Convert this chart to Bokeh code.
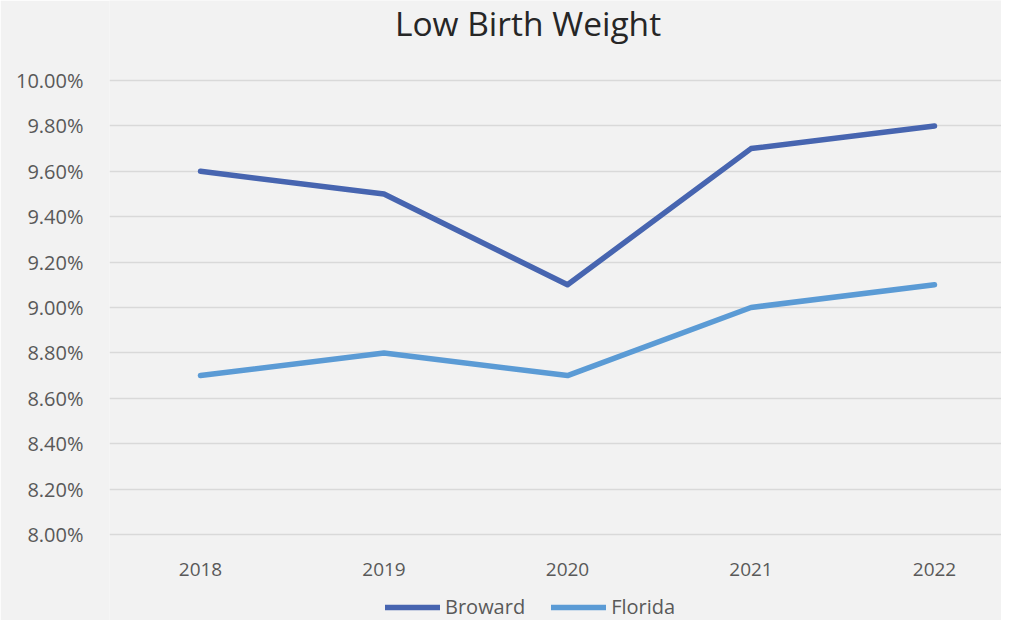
from bokeh.plotting import figure
from bokeh.models import Range1d, FixedTicker, NumeralTickFormatter, Legend, LegendItem, Label
from bokeh.embed import file_html
from bokeh.resources import INLINE

title_text = "Low Birth Weight"
years = [2018, 2019, 2020, 2021, 2022]
year_labels = ["2018", "2019", "2020", "2021", "2022"]
broward = [0.096, 0.095, 0.091, 0.097, 0.098]
florida = [0.087, 0.088, 0.087, 0.090, 0.091]
y_ticks = [0.080, 0.082, 0.084, 0.086, 0.088, 0.090, 0.092, 0.094, 0.096, 0.098, 0.100]

BG = "#f2f2f2"
FONT = "Open Sans"

# frame spans the whole figure height; 10% sits 80px below top, 8% sits 534px below top
p = figure(width=1001, height=620, output_backend="svg", toolbar_location=None,
           x_range=Range1d(2017.5041, 2022.3651), y_range=Range1d(0.0762115, 0.1035242),
           min_border_left=109, min_border_right=0, min_border_top=0, min_border_bottom=0)
p.background_fill_color = BG
p.border_fill_color = BG
p.outline_line_color = None

title = Label(text=title_text, x=418.5, y=598, x_units="screen", y_units="screen",
              text_align="center", text_baseline="alphabetic",
              text_font=FONT, text_font_size="33.5px", text_color="#262626")
p.add_layout(title)

p.xgrid.grid_line_color = None
p.ygrid.grid_line_color = "#d9d9d9"
p.ygrid.grid_line_width = 1.5
p.ygrid.ticker = FixedTicker(ticks=y_ticks)

p.xaxis.ticker = FixedTicker(ticks=years)
p.xaxis.major_label_overrides = {y: l for y, l in zip(years, year_labels)}
p.xaxis.fixed_location = 0.080
p.yaxis.ticker = FixedTicker(ticks=y_ticks)
p.yaxis.formatter = NumeralTickFormatter(format="0.00%")
for ax in (p.xaxis, p.yaxis):
    ax.axis_line_color = None
    ax.major_tick_line_color = None
    ax.minor_tick_line_color = None
    ax.major_tick_out = 0
    ax.major_tick_in = 0
    ax.major_label_text_font = FONT
    ax.major_label_text_color = "#595959"
p.xaxis.major_label_text_font_size = "19px"
p.yaxis.major_label_text_font_size = "20px"
p.yaxis.major_label_standoff = 26
p.xaxis.major_label_standoff = 28

r1 = p.line(years, broward, line_color="#4765B0", line_width=5.5, line_cap="round", line_join="round")
r2 = p.line(years, florida, line_color="#5B9BD5", line_width=5.5, line_cap="round", line_join="round")

legend = Legend(items=[LegendItem(label="Broward", renderers=[r1]),
                       LegendItem(label="Florida", renderers=[r2])],
                orientation="horizontal", location=(276, 0))
legend.background_fill_alpha = 0
legend.border_line_color = None
legend.label_text_font = FONT
legend.label_text_font_size = "20px"
legend.label_text_color = "#595959"
legend.glyph_width = 55
legend.label_standoff = 5
legend.spacing = 26
legend.margin = 0
legend.padding = 0
p.add_layout(legend, "center")

open("out.html", "w").write(file_html(p, INLINE))
